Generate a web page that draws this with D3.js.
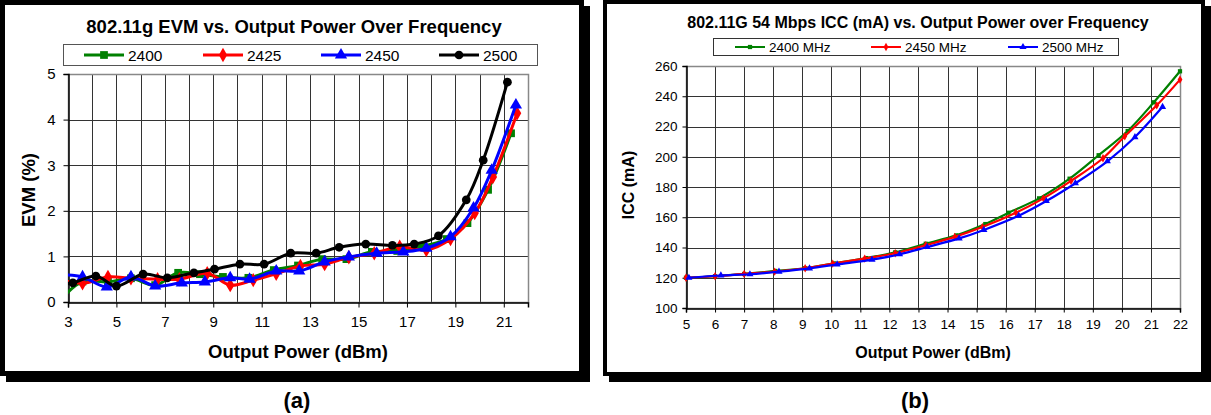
<!DOCTYPE html>
<html>
<head>
<meta charset="utf-8">
<script src="https://cdn.jsdelivr.net/npm/d3@7"></script>
<style>
  body { margin: 0; background: #fff; }
  svg { display: block; font-family: "Liberation Sans", Arial, sans-serif; }
</style>
</head>
<body>
<div id="chart"></div>
<script>
// (a) EVM vs output power, [dBm, %]
const evmNames = ["2400", "2425", "2450", "2500"];
const evm2400 = [[2.7,0.05],[3.6,0.45],[4.65,0.44],[5.6,0.52],[6.6,0.37],[7.55,0.64],[8.45,0.61],[9.4,0.55],[10.45,0.53],[11.5,0.7],[12.5,0.8],[13.5,0.94],[14.5,0.94],[15.55,1.1],[16.6,1.12],[17.6,1.22],[18.65,1.38],[19.5,1.73],[20.35,2.46],[21.3,3.7]];
const evm2425 = [[2.6,0.5],[3.6,0.41],[4.65,0.55],[5.6,0.52],[6.7,0.5],[7.6,0.5],[8.75,0.63],[9.7,0.37],[10.65,0.48],[11.6,0.62],[12.6,0.79],[13.6,0.83],[14.6,0.98],[15.65,1.07],[16.7,1.21],[17.8,1.14],[18.8,1.38],[19.8,1.95],[20.55,2.74],[21.55,4.14]];
const evm2450 = [[2.6,0.6],[3.6,0.55],[4.6,0.33],[5.6,0.55],[6.6,0.35],[7.7,0.42],[8.65,0.44],[9.7,0.53],[10.5,0.5],[11.6,0.68],[12.55,0.68],[13.6,0.88],[14.6,0.99],[15.75,1.07],[16.85,1.1],[17.8,1.18],[18.8,1.43],[19.75,2.06],[20.5,2.89],[21.5,4.32]];
const evm2500 = [[2.5,0.38],[3.2,0.42],[4.15,0.57],[5.0,0.35],[6.1,0.61],[7.1,0.53],[8.2,0.64],[9.05,0.72],[10.1,0.83],[11.1,0.83],[12.2,1.07],[13.25,1.07],[14.2,1.2],[15.3,1.27],[16.4,1.24],[17.3,1.27],[18.3,1.45],[19.45,2.24],[20.15,3.11],[21.15,4.82]];
const evmXTicks = [3,5,7,9,11,13,15,17,19,21];
const evmYTicks = [0,1,2,3,4,5];

// (b) ICC vs output power, [dBm, mA]
const iccNames = ["2400 MHz", "2450 MHz", "2500 MHz"];
const icc2400 = [[5,120],[6,121],[7,122.5],[8.07,124.5],[9.1,126.3],[10.1,129.5],[11.2,133],[12.2,136.8],[13.25,142.5],[14.3,148],[15.3,155.5],[16.1,163],[17.15,172.5],[18.2,185.5],[19.2,201],[20.2,217],[21.1,236],[22,256.5]];
const icc2450 = [[5,120],[6,121],[7,122.5],[8.05,124],[9.1,126.3],[10.05,129.3],[11.15,132.7],[12.2,136.2],[13.25,141.5],[14.25,147],[15.2,153.5],[16.35,163],[17.3,172.5],[18.25,184],[19.35,199],[20.1,213.5],[21.2,234],[22,251]];
const icc2500 = [[5.1,120],[6.2,121.5],[7.2,122.3],[8.2,124],[9.25,126.2],[10.2,128.8],[11.4,132],[12.35,135.5],[13.3,140.3],[14.4,146],[15.25,151.6],[16.45,161],[17.4,170.7],[18.4,182.5],[19.5,197],[20.45,213],[21.4,233]];
const iccXTicks = d3.range(5, 23);
const iccYTicks = d3.range(100, 261, 20);

const W = 1211, H = 415;
const svg = d3.select("#chart").append("svg").attr("width", W).attr("height", H);

function frame(x0, y0, x1, y1, sw) {
  // shadow then bordered box
  svg.append("rect").attr("x", x0 + 6).attr("y", y0 + 6)
    .attr("width", x1 - x0).attr("height", y1 - y0).attr("fill", "#000");
  svg.append("rect").attr("x", x0 + sw / 2).attr("y", y0 + sw / 2)
    .attr("width", x1 - x0 - sw).attr("height", y1 - y0 - sw)
    .attr("fill", "#fff").attr("stroke", "#000").attr("stroke-width", sw);
}

function symbolFor(name) {
  return {square: d3.symbolSquare, diamond: d3.symbolDiamond, triangle: d3.symbolTriangle, circle: d3.symbolCircle}[name];
}

frame(0, 0, 584, 376, 5);
frame(603, 0, 1205, 376, 4);

// ---------- chart (a) ----------
const xa = d3.scaleLinear().domain([3, 22]).range([68, 528]);
const ya = d3.scaleLinear().domain([0, 5]).range([302, 74]);
const ga = svg.append("g");

ga.append("g").selectAll("line").data(d3.range(4, 22)).join("line")
  .attr("x1", d => Math.round(xa(d)) + 0.5).attr("x2", d => Math.round(xa(d)) + 0.5)
  .attr("y1", ya(5)).attr("y2", ya(0)).attr("stroke", "#333").attr("stroke-width", 1);
ga.append("g").selectAll("line").data(d3.range(1, 5)).join("line")
  .attr("y1", d => Math.round(ya(d)) + 0.5).attr("y2", d => Math.round(ya(d)) + 0.5)
  .attr("x1", xa(3)).attr("x2", xa(22)).attr("stroke", "#333").attr("stroke-width", 1);
ga.append("rect").attr("x", xa(3) + 0.5).attr("y", ya(5) + 0.5)
  .attr("width", xa(22) - xa(3)).attr("height", ya(0) - ya(5))
  .attr("fill", "none").attr("stroke", "#888").attr("stroke-width", 1.5);

ga.append("g").attr("transform", `translate(0,${ya(0) + 0.5})`)
  .call(d3.axisBottom(xa).tickValues(evmXTicks).tickSize(5).tickPadding(9))
  .call(g => g.select(".domain").attr("stroke", "#000").attr("stroke-width", 1.5))
  .call(g => g.selectAll("text").attr("font-size", 15).attr("fill", "#000").attr("font-family", "Liberation Sans, Arial"));
ga.append("g").attr("transform", `translate(${xa(3) + 0.5},0)`)
  .call(d3.axisLeft(ya).tickValues(evmYTicks).tickFormat(d3.format("d")).tickSize(5).tickPadding(8))
  .call(g => g.select(".domain").attr("stroke", "#000").attr("stroke-width", 1.5))
  .call(g => g.selectAll("text").attr("font-size", 15).attr("fill", "#000").attr("font-family", "Liberation Sans, Arial"));

ga.append("defs").append("clipPath").attr("id", "clipA").append("rect")
  .attr("x", xa(3)).attr("y", ya(5) - 10).attr("width", xa(22) - xa(3)).attr("height", ya(0) - ya(5) + 10);

const evmSeries = [
  {name: evmNames[0], data: evm2400, color: "#008000", sym: "square", size: 60},
  {name: evmNames[1], data: evm2425, color: "#ff0000", sym: "diamond", size: 60},
  {name: evmNames[2], data: evm2450, color: "#0000ff", sym: "triangle", size: 65},
  {name: evmNames[3], data: evm2500, color: "#000000", sym: "circle", size: 60}
];
const lineA = d3.line().x(d => xa(d[0])).y(d => ya(d[1])).curve(d3.curveCatmullRom.alpha(0.5));
const plotA = ga.append("g").attr("clip-path", "url(#clipA)");
evmSeries.forEach(s => {
  plotA.append("path").attr("d", lineA(s.data)).attr("fill", "none")
    .attr("stroke", s.color).attr("stroke-width", 3);
  plotA.append("g").selectAll("path").data(s.data).join("path")
    .attr("d", d3.symbol(symbolFor(s.sym), s.size))
    .attr("transform", d => `translate(${xa(d[0])},${ya(d[1])})`)
    .attr("fill", s.color);
});

svg.append("text").attr("x", 294).attr("y", 33).attr("text-anchor", "middle")
  .attr("font-size", 18.5).attr("font-weight", "bold").text("802.11g EVM vs. Output Power Over Frequency");
svg.append("text").attr("x", 298).attr("y", 358).attr("text-anchor", "middle")
  .attr("font-size", 18.5).attr("font-weight", "bold").text("Output Power (dBm)");
svg.append("text").attr("transform", "translate(35,190) rotate(-90)").attr("text-anchor", "middle")
  .attr("font-size", 18.5).attr("font-weight", "bold").text("EVM (%)");

// legend (a)
svg.append("rect").attr("x", 63.5).attr("y", 44.5).attr("width", 474).attr("height", 21)
  .attr("fill", "#fff").attr("stroke", "#555").attr("stroke-width", 1);
const legAx = [84, 203, 321, 439];
evmSeries.forEach((s, i) => {
  const g = svg.append("g").attr("transform", `translate(${legAx[i]},55)`);
  g.append("line").attr("x1", 0).attr("x2", 40).attr("stroke", s.color).attr("stroke-width", 3);
  g.append("path").attr("d", d3.symbol(symbolFor(s.sym), s.size)()).attr("transform", "translate(20,0)").attr("fill", s.color);
  g.append("text").attr("x", 44).attr("y", 5.5).attr("font-size", 15.5).text(s.name);
});

// ---------- chart (b) ----------
const xb = d3.scaleLinear().domain([5, 22]).range([686, 1180]);
const yb = d3.scaleLinear().domain([100, 260]).range([308, 66]);
const gb = svg.append("g");

gb.append("g").selectAll("line").data(iccXTicks.slice(1, -1)).join("line")
  .attr("x1", d => Math.round(xb(d)) + 0.5).attr("x2", d => Math.round(xb(d)) + 0.5)
  .attr("y1", yb(260)).attr("y2", yb(100)).attr("stroke", "#333").attr("stroke-width", 1);
gb.append("g").selectAll("line").data(iccYTicks.slice(1, -1)).join("line")
  .attr("y1", d => Math.round(yb(d)) + 0.5).attr("y2", d => Math.round(yb(d)) + 0.5)
  .attr("x1", xb(5)).attr("x2", xb(22)).attr("stroke", "#333").attr("stroke-width", 1);
gb.append("rect").attr("x", xb(5) + 0.5).attr("y", yb(260) + 0.5)
  .attr("width", xb(22) - xb(5)).attr("height", yb(100) - yb(260))
  .attr("fill", "none").attr("stroke", "#888").attr("stroke-width", 1.5);

gb.append("g").attr("transform", `translate(0,${yb(100) + 0.5})`)
  .call(d3.axisBottom(xb).tickValues(iccXTicks).tickSize(4).tickPadding(7))
  .call(g => g.select(".domain").attr("stroke", "#000").attr("stroke-width", 1.5))
  .call(g => g.selectAll("text").attr("font-size", 13.5).attr("fill", "#000").attr("font-family", "Liberation Sans, Arial"));
gb.append("g").attr("transform", `translate(${xb(5) + 0.5},0)`)
  .call(d3.axisLeft(yb).tickValues(iccYTicks).tickSize(4).tickPadding(5))
  .call(g => g.select(".domain").attr("stroke", "#000").attr("stroke-width", 1.5))
  .call(g => g.selectAll("text").attr("font-size", 13.5).attr("fill", "#000").attr("font-family", "Liberation Sans, Arial"));

const iccSeries = [
  {name: iccNames[0], data: icc2400, color: "#008000", sym: "square", size: 18},
  {name: iccNames[1], data: icc2450, color: "#ff0000", sym: "diamond", size: 20},
  {name: iccNames[2], data: icc2500, color: "#0000ff", sym: "triangle", size: 22}
];
const lineB = d3.line().x(d => xb(d[0])).y(d => yb(d[1])).curve(d3.curveCatmullRom.alpha(0.5));
iccSeries.forEach(s => {
  gb.append("path").attr("d", lineB(s.data)).attr("fill", "none")
    .attr("stroke", s.color).attr("stroke-width", 2.2);
  gb.append("g").selectAll("path").data(s.data).join("path")
    .attr("d", d3.symbol(symbolFor(s.sym), s.size))
    .attr("transform", d => `translate(${xb(d[0])},${yb(d[1])})`)
    .attr("fill", s.color);
});

svg.append("text").attr("x", 918).attr("y", 28).attr("text-anchor", "middle")
  .attr("font-size", 16).attr("font-weight", "bold").text("802.11G 54 Mbps ICC (mA) vs. Output Power over Frequency");
svg.append("text").attr("x", 933).attr("y", 358).attr("text-anchor", "middle")
  .attr("font-size", 16).attr("font-weight", "bold").text("Output Power (dBm)");
svg.append("text").attr("transform", "translate(634,185) rotate(-90)").attr("text-anchor", "middle")
  .attr("font-size", 16).attr("font-weight", "bold").text("ICC (mA)");

// legend (b)
svg.append("rect").attr("x", 713.5).attr("y", 38.5).attr("width", 405).attr("height", 17)
  .attr("fill", "#fff").attr("stroke", "#333").attr("stroke-width", 1);
const legBx = [735, 871, 1008];
iccSeries.forEach((s, i) => {
  const g = svg.append("g").attr("transform", `translate(${legBx[i]},47)`);
  g.append("line").attr("x1", 0).attr("x2", 30).attr("stroke", s.color).attr("stroke-width", 2);
  g.append("path").attr("d", d3.symbol(symbolFor(s.sym), s.size)()).attr("transform", "translate(15,0)").attr("fill", s.color);
  g.append("text").attr("x", 34).attr("y", 5).attr("font-size", 13.5).text(s.name);
});

// panel captions
svg.append("text").attr("x", 297).attr("y", 408).attr("text-anchor", "middle")
  .attr("font-size", 22).attr("font-weight", "bold").text("(a)");
svg.append("text").attr("x", 915).attr("y", 408).attr("text-anchor", "middle")
  .attr("font-size", 22).attr("font-weight", "bold").text("(b)");
</script>
</body>
</html>
